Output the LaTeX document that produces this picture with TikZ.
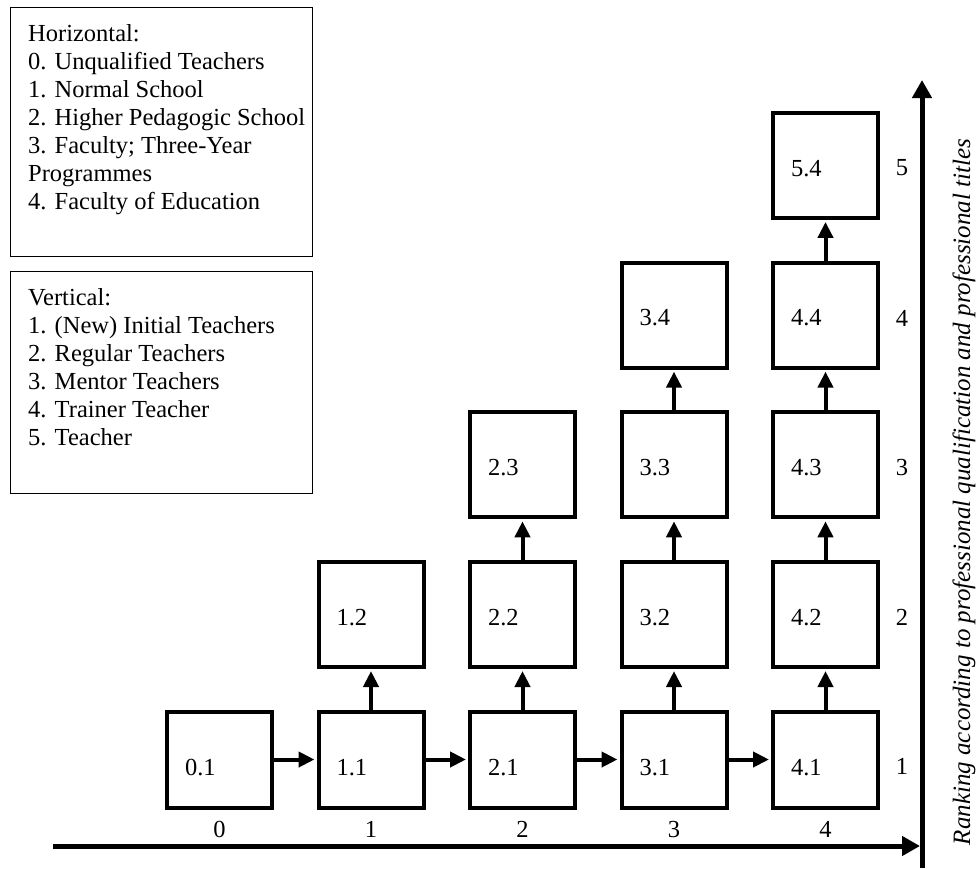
\documentclass[tikz,border=0pt]{standalone}
\usepackage{fontspec}
\setmainfont{Liberation Serif}
\usetikzlibrary{arrows.meta}
\begin{document}
\begin{tikzpicture}[x=1pt,y=-1pt,
  every node/.style={font=\fontsize{24.5}{28}\selectfont},
  cell/.style={draw, line width=4pt, inner xsep=18pt, inner ysep=0pt,
    text width=69pt, align=left, minimum height=105pt,
    text height=21.5pt, text depth=0pt},
  basecell/.style={cell, minimum height=96pt, text height=31.5pt},
  flow/.style={line width=4pt, -{Triangle[length=16pt,width=15pt]}, shorten >=2pt},
  axisline/.style={line width=5pt, -{Triangle[length=18pt,width=19pt]}},
  legendbox/.style={draw, line width=1.2pt, anchor=north west, inner sep=0pt,
    minimum width=302pt},
  legendtext/.style={anchor=north west, inner sep=0pt, align=left}
]
\useasboundingbox (0,0) rectangle (977,868);

% legends
\node[legendbox, minimum height=249pt] (legendH) at (10,7) {};
\node[legendtext] (legendHtext) at (28,24) {Horizontal:\\0. Unqualified Teachers\\1. Normal School\\2. Higher Pedagogic School\\3. Faculty; Three-Year\\Programmes\\4. Faculty of Education};
\node[legendbox, minimum height=222pt] (legendV) at (10,271) {};
\node[legendtext] (legendVtext) at (28,288) {Vertical:\\1. (New) Initial Teachers\\2. Regular Teachers\\3. Mentor Teachers\\4. Trainer Teacher\\5. Teacher};

% row 1
\node[basecell] (n01) at (219.5,759.5) {0.1};
\node[basecell] (n11) at (371,759.5) {1.1};
\node[basecell] (n21) at (522.5,759.5) {2.1};
\node[basecell] (n31) at (674,759.5) {3.1};
\node[basecell] (n41) at (825.5,759.5) {4.1};
% row 2
\node[cell] (n12) at (371,614.5) {1.2};
\node[cell] (n22) at (522.5,614.5) {2.2};
\node[cell] (n32) at (674,614.5) {3.2};
\node[cell] (n42) at (825.5,614.5) {4.2};
% row 3
\node[cell] (n23) at (522.5,464.8) {2.3};
\node[cell] (n33) at (674,464.8) {3.3};
\node[cell] (n43) at (825.5,464.8) {4.3};
% row 4
\node[cell] (n34) at (674,315.1) {3.4};
\node[cell] (n44) at (825.5,315.1) {4.4};
% row 5
\node[cell] (n54) at (825.5,165.4) {5.4};

% horizontal steps
\draw[flow] (n01.east) -- (n11.west);
\draw[flow] (n11.east) -- (n21.west);
\draw[flow] (n21.east) -- (n31.west);
\draw[flow] (n31.east) -- (n41.west);
% vertical steps
\draw[flow] (n11.north) -- (n12.south);
\draw[flow] (n21.north) -- (n22.south);
\draw[flow] (n22.north) -- (n23.south);
\draw[flow] (n31.north) -- (n32.south);
\draw[flow] (n32.north) -- (n33.south);
\draw[flow] (n33.north) -- (n34.south);
\draw[flow] (n41.north) -- (n42.south);
\draw[flow] (n42.north) -- (n43.south);
\draw[flow] (n43.north) -- (n44.south);
\draw[flow] (n44.north) -- (n54.south);

% column numbers
\node (c0) at (219.5,829) {0};
\node (c1) at (371,829) {1};
\node (c2) at (522.5,829) {2};
\node (c3) at (674,829) {3};
\node (c4) at (825.5,829) {4};

% row numbers
\node (r1) at (902,766) {1};
\node (r2) at (902,617) {2};
\node (r3) at (902,467) {3};
\node (r4) at (902,318) {4};
\node (r5) at (902,168) {5};

% axes
\coordinate (xstart) at (53,846);
\coordinate (xend) at (920,846);
\coordinate (ybottom) at (922,868);
\coordinate (ytop) at (922,80);
\draw[axisline] (xstart) -- (xend);
\draw[axisline] (ybottom) -- (ytop);

\node[rotate=90, font=\fontsize{25}{28}\selectfont\itshape] (ranking) at (964,492)
  {Ranking according to professional qualification and professional titles};
\end{tikzpicture}
\end{document}
